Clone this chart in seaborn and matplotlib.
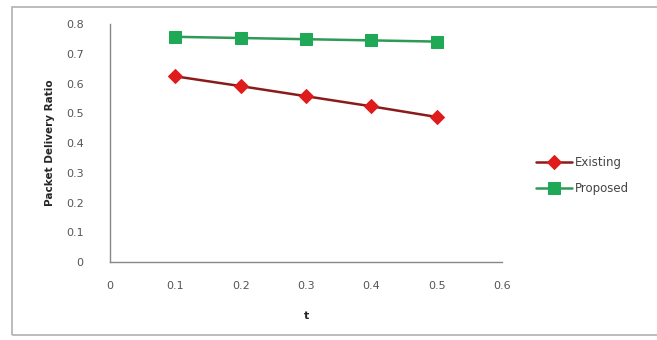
import matplotlib.pyplot as plt
import pandas as pd
import seaborn as sns
from matplotlib.patches import Rectangle

t_values = [0.1, 0.2, 0.3, 0.4, 0.5]
existing = [0.625, 0.592, 0.558, 0.524, 0.488]
proposed = [0.758, 0.754, 0.750, 0.746, 0.742]
series_names = ["Existing", "Proposed"]

x_ticks = [0, 0.1, 0.2, 0.3, 0.4, 0.5, 0.6]
y_ticks = [0, 0.1, 0.2, 0.3, 0.4, 0.5, 0.6, 0.7, 0.8]

df = pd.DataFrame({
    "t": t_values * 2,
    "ratio": existing + proposed,
    "scheme": [series_names[0]] * len(t_values) + [series_names[1]] * len(t_values),
})

sns.set_style("white")
plt.rcParams['font.family'] = ['DejaVu Sans']

fig = plt.figure(figsize=(6.57, 3.40), dpi=100)
ax = fig.add_axes([0.1674, 0.2294, 0.597, 0.699])

# outer frame around the chart
fig.patches.append(Rectangle((12 / 657, 5 / 340), 1.0, 328 / 340,
                             transform=fig.transFigure, fill=False,
                             edgecolor='#b0b0b0', linewidth=1.2))

line_colors = {"Existing": "#8b1a1a", "Proposed": "#2e9a55"}
marker_colors = {"Existing": "#e01b1b", "Proposed": "#1fa855"}
markers = {"Existing": "D", "Proposed": "s"}
sizes = {"Existing": 7, "Proposed": 8}

for name in series_names:
    sub = df[df["scheme"] == name]
    sns.lineplot(data=sub, x="t", y="ratio", ax=ax, label=name,
                 color=line_colors[name], linewidth=1.8,
                 marker=markers[name], markersize=sizes[name],
                 markerfacecolor=marker_colors[name],
                 markeredgecolor=marker_colors[name])

ax.set_xlim(0, 0.6)
ax.set_ylim(0, 0.8)
ax.set_xticks(x_ticks)
ax.set_xticklabels([f"{v:g}" for v in x_ticks])
ax.set_yticks(y_ticks)
ax.set_yticklabels([f"{v:g}" for v in y_ticks])
ax.tick_params(axis='both', length=0, labelsize=8, colors='#555555')
ax.tick_params(axis='x', pad=14)
ax.tick_params(axis='y', pad=19)

for side in ["top", "right"]:
    ax.spines[side].set_visible(False)
for side in ["left", "bottom"]:
    ax.spines[side].set_color('#888888')
    ax.spines[side].set_linewidth(1.0)

ax.set_xlabel("t", fontsize=8, fontweight='bold', labelpad=14)
ax.set_ylabel("Packet Delivery Ratio", fontsize=7.5, fontweight='bold',
              family=['Liberation Sans Narrow', 'DejaVu Sans'], labelpad=8)

ax.legend(loc='center left', bbox_to_anchor=(1.06, 0.365), frameon=False,
          fontsize=8.5, handlelength=3.0, handletextpad=0.3, labelspacing=1.1,
          labelcolor='#444444')

fig.savefig("out.png", dpi=100)
